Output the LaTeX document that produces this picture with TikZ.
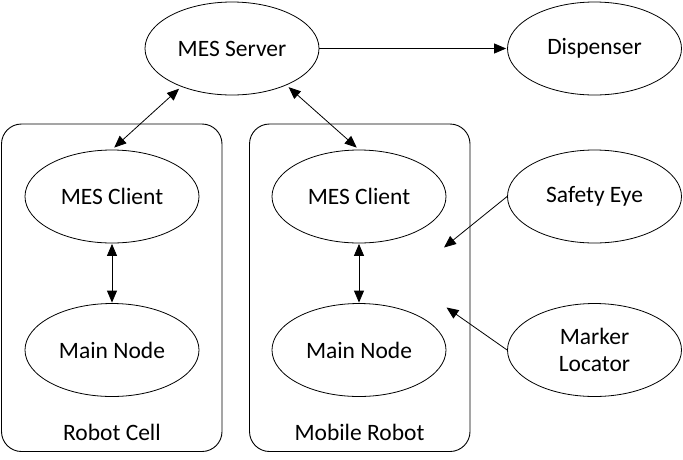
\documentclass[tikz,border=0pt]{standalone}
\usepackage{fontspec}
\setmainfont{Carlito}
\usetikzlibrary{arrows.meta,shapes.geometric}
\begin{document}
\begin{tikzpicture}[x=1pt,y=-1pt,
  every node/.style={font=\fontsize{23.5}{27.5}\selectfont},
  ell/.style={draw,ellipse,line width=0.8pt,minimum width=174pt,minimum height=93pt,inner sep=0pt,align=center},
  grp/.style={draw,line width=0.9pt,rounded corners=20pt},
  conn/.style={line width=0.8pt,-{Triangle[length=12pt,width=10pt]}},
  bconn/.style={line width=0.8pt,{Triangle[length=12pt,width=10pt]}-{Triangle[length=12pt,width=10pt]}}]
\useasboundingbox (0,0) rectangle (683,459);
\draw[grp] (1.5,124) rectangle (222,451.5);
\draw[grp] (249.5,124) rectangle (470,451.5);
\node[anchor=base] (lrc) at (112,440) {Robot Cell};
\node[anchor=base] (lmr) at (359.5,440) {Mobile Robot};
\node[ell] (srv) at (232,48.5) {MES Server};
\node[ell] (disp) at (594.5,48.5) {Dispenser};
\node[ell] (cl1) at (112,196.5) {MES Client};
\node[ell] (mn1) at (112,350) {Main Node};
\node[ell] (cl2) at (359,196.5) {MES Client};
\node[ell] (mn2) at (359,350) {Main Node};
\node[ell] (se) at (594.5,196.5) {Safety Eye};
\node[ell] (ml) at (594.5,350) {Marker\\Locator};
\coordinate (seend) at (444,247.5);
\coordinate (mlend) at (446.5,307.5);
\draw[conn,shorten >=1pt] (srv.east) -- (disp.west);
\draw[bconn,shorten <=3pt,shorten >=3pt] (srv.217) -- (cl1.north);
\draw[bconn,shorten <=3pt,shorten >=3pt] (srv.326) -- (cl2.north);
\draw[bconn,shorten <=0.5pt,shorten >=0.5pt] (cl1.south) -- (mn1.north);
\draw[bconn,shorten <=0.5pt,shorten >=0.5pt] (cl2.south) -- (mn2.north);
\draw[conn] (se.west) -- (seend);
\draw[conn] (ml.west) -- (mlend);
\end{tikzpicture}
\end{document}
